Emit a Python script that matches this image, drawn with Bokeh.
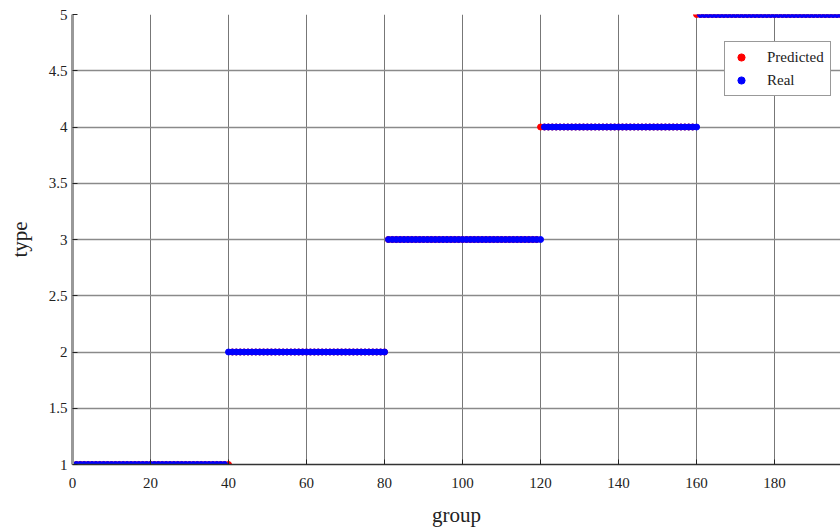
from bokeh.plotting import figure
from bokeh.models import Range1d, FixedTicker, Legend, LegendItem
from bokeh.embed import file_html
from bokeh.resources import INLINE

# --- data ---
group = list(range(1, 201))
real_type = [1] * 39 + [2] * 41 + [3] * 40 + [4] * 40 + [5] * 40
predicted_type = list(real_type)
predicted_type[39] = 1    # group 40
predicted_type[119] = 4   # group 120
predicted_type[159] = 5   # group 160

x_ticks = [0, 20, 40, 60, 80, 100, 120, 140, 160, 180, 200]
y_ticks = [1, 1.5, 2, 2.5, 3, 3.5, 4, 4.5, 5]
y_tick_labels = ["1", "1.5", "2", "2.5", "3", "3.5", "4", "4.5", "5"]

FONT = "Liberation Serif"

p = figure(width=840, height=529, output_backend="svg", toolbar_location=None,
           x_range=Range1d(0, 196.9), y_range=Range1d(1, 5),
           min_border_left=72, min_border_right=0, min_border_top=14, min_border_bottom=63)
p.outline_line_color = None
p.background_fill_color = "white"
p.border_fill_color = "white"

r_pred = p.scatter(group, predicted_type, size=6, color="#FF0000", line_color="#FF0000")
r_real = p.scatter(group, real_type, size=6, color="#0000FF", line_color="#0000FF")

p.xaxis.ticker = FixedTicker(ticks=x_ticks)
p.yaxis.ticker = FixedTicker(ticks=y_ticks)
p.yaxis.major_label_overrides = {t: l for t, l in zip(y_ticks, y_tick_labels)}

for ax in (p.xaxis[0], p.yaxis[0]):
    ax.major_label_text_font = FONT
    ax.major_label_text_font_size = "15px"
    ax.major_label_text_color = "#222222"
    ax.axis_label_text_font = FONT
    ax.axis_label_text_font_size = "21px"
    ax.axis_label_text_font_style = "normal"
    ax.axis_label_text_color = "#222222"
    ax.major_tick_in = 5
    ax.major_tick_out = 0
    ax.minor_tick_line_color = None
    ax.major_tick_line_color = "#222222"

p.xaxis.axis_label = "group"
p.yaxis.axis_label = "type"
p.xaxis.axis_line_color = "#333333"
p.xaxis.axis_line_width = 1.5
p.yaxis.axis_line_color = "#999999"
p.yaxis.axis_line_width = 3
p.xaxis.major_label_standoff = 13
p.yaxis.major_label_standoff = 5
p.xaxis.axis_label_standoff = 12
p.yaxis.axis_label_standoff = 14

p.xgrid.grid_line_color = "#777777"
p.xgrid.grid_line_width = 1
p.ygrid.grid_line_color = "#8a8a8a"
p.ygrid.grid_line_width = 1.5

legend = Legend(items=[LegendItem(label="Predicted", renderers=[r_pred]),
                       LegendItem(label="Real", renderers=[r_real])],
                location=(652, 368))
legend.label_text_font = FONT
legend.label_text_font_size = "15px"
legend.label_text_color = "#222222"
legend.border_line_color = "#333333"
legend.border_line_width = 1
legend.background_fill_color = "white"
legend.background_fill_alpha = 1
legend.glyph_width = 20
legend.glyph_height = 18
legend.spacing = 5
legend.padding = 6
legend.label_standoff = 16
p.add_layout(legend)

open("out.html", "w").write(file_html(p, INLINE))
